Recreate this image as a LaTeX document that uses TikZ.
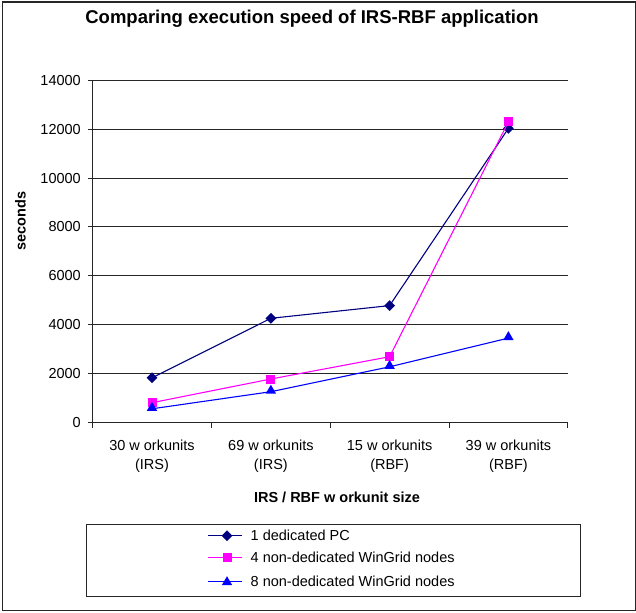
\documentclass[tikz,border=0pt]{standalone}
\usepackage{fontspec}
\setmainfont{Liberation Sans}
\usetikzlibrary{shapes.geometric}
\definecolor{pcnavy}{RGB}{0,0,128}
\definecolor{magen}{RGB}{255,0,255}
\definecolor{blu}{RGB}{0,0,255}
\begin{document}
\begin{tikzpicture}[x=1pt,y=-1pt,
  ticklbl/.style={font=\fontsize{14.5}{17}\selectfont, inner sep=0pt},
  grid line/.style={line width=1.2pt, black!85},
  axis line/.style={line width=1.2pt, black!85},
  pcline/.style={draw=pcnavy, line width=1.1pt},
  fourline/.style={draw=magen, line width=1.1pt},
  eightline/.style={draw=blu, line width=1.1pt},
  pcmark/.style={diamond, fill=pcnavy, inner sep=0pt, minimum width=11pt, minimum height=11pt},
  fourmark/.style={rectangle, fill=magen, inner sep=0pt, minimum size=9pt},
  eightmark/.style={regular polygon, regular polygon sides=3, fill=blu, inner sep=0pt, minimum size=12pt},
]
\useasboundingbox (0,0) rectangle (636,612);
\node[draw=black!85, line width=1.5pt, minimum width=633pt, minimum height=608pt, inner sep=0pt, anchor=north west] (frame) at (1.5,1.5) {};
% title
\node[font=\fontsize{18.5}{22}\selectfont\bfseries, inner sep=0pt] (title) at (312,19) {Comparing execution speed of IRS-RBF application};
% grid
\foreach \v/\yy in {2000/373.5,4000/324.5,6000/275.5,8000/226.5,10000/178.5,12000/129.5,14000/80.5}{
  \draw[grid line] (92.5,\yy) -- (567.5,\yy);
}
\foreach \v/\yy [count=\i] in {0/422.5,2000/373.5,4000/324.5,6000/275.5,8000/226.5,10000/178.5,12000/129.5,14000/80.5}{
  \coordinate (yt\i) at (88,\yy);
  \coordinate (ya\i) at (92.5,\yy);
  \draw[axis line] (yt\i) -- (ya\i);
  \node[ticklbl, anchor=east] (ylab\i) at (81,\yy) {\v};
}
% axes
\coordinate (origin) at (92.5,422.5);
\coordinate (ytop) at (92.5,80.5);
\coordinate (xend) at (567.5,422.5);
\draw[axis line] (ytop) -- (origin) -- (xend);
\foreach \xx [count=\i] in {92.5,211.5,330.5,449.5,567.5}{
  \coordinate (xa\i) at (\xx,422.5);
  \coordinate (xt\i) at (\xx,427.5);
  \draw[axis line] (xa\i) -- (xt\i);
}
% category labels
\node[ticklbl] (c1a) at (152,445) {30 w orkunits};
\node[ticklbl] (c1b) at (152,466) {(IRS)};
\node[ticklbl] (c2a) at (270.9,445) {69 w orkunits};
\node[ticklbl] (c2b) at (270.9,466) {(IRS)};
\node[ticklbl] (c3a) at (389.6,445) {15 w orkunits};
\node[ticklbl] (c3b) at (389.6,466) {(RBF)};
\node[ticklbl] (c4a) at (508.4,445) {39 w orkunits};
\node[ticklbl] (c4b) at (508.4,466) {(RBF)};
% axis titles
\node[font=\fontsize{14.5}{17}\selectfont\bfseries, inner sep=0pt] (xtitle) at (337,497) {IRS / RBF w orkunit size};
\node[font=\fontsize{14.5}{17}\selectfont\bfseries, inner sep=0pt, rotate=90] (ytitle) at (20.5,221) {seconds};
% data
\coordinate (p1) at (152,377.8);
\coordinate (p2) at (270.9,318.3);
\coordinate (p3) at (389.6,305.6);
\coordinate (p4) at (508.4,128.4);
\coordinate (f1) at (152,402.7);
\coordinate (f2) at (270.9,379.0);
\coordinate (f3) at (389.6,356.7);
\coordinate (f4) at (508.4,121.8);
\coordinate (e1) at (152,408.8);
\coordinate (e2) at (270.9,391.7);
\coordinate (e3) at (389.6,366.8);
\coordinate (e4) at (508.4,338.1);
\draw[pcline] (p1) -- (p2) -- (p3) -- (p4);
\foreach \i in {1,...,4}{ \node[pcmark] (pm\i) at (p\i) {}; }
\draw[fourline] (f1) -- (f2) -- (f3) -- (f4);
\foreach \i in {1,...,4}{ \node[fourmark] (fm\i) at (f\i) {}; }
\draw[eightline] (e1) -- (e2) -- (e3) -- (e4);
\foreach \i in {1,...,4}{ \node[eightmark] (em\i) at ([yshift=1pt]e\i) {}; }
% legend
\node[draw=black!85, line width=1.2pt, minimum width=494pt, minimum height=72pt, inner sep=0pt, anchor=north west] (legend) at (86,524) {};
\coordinate (la1) at (208,535.7); \coordinate (lb1) at (242,535.7);
\coordinate (la2) at (208,557.7); \coordinate (lb2) at (242,557.7);
\coordinate (la3) at (208,581.7); \coordinate (lb3) at (242,581.7);
\draw[pcline] (la1) -- (lb1);
\node[pcmark] (lm1) at (227,535.7) {};
\draw[fourline] (la2) -- (lb2);
\node[fourmark] (lm2) at (227,557.7) {};
\draw[eightline] (la3) -- (lb3);
\node[eightmark] (lm3) at (227,582.2) {};
\node[ticklbl, anchor=west] (lt1) at (250.5,535.7) {1 dedicated PC};
\node[ticklbl, anchor=west] (lt2) at (250.5,557.7) {4 non-dedicated WinGrid nodes};
\node[ticklbl, anchor=west] (lt3) at (250.5,581.7) {8 non-dedicated WinGrid nodes};
\end{tikzpicture}
\end{document}
